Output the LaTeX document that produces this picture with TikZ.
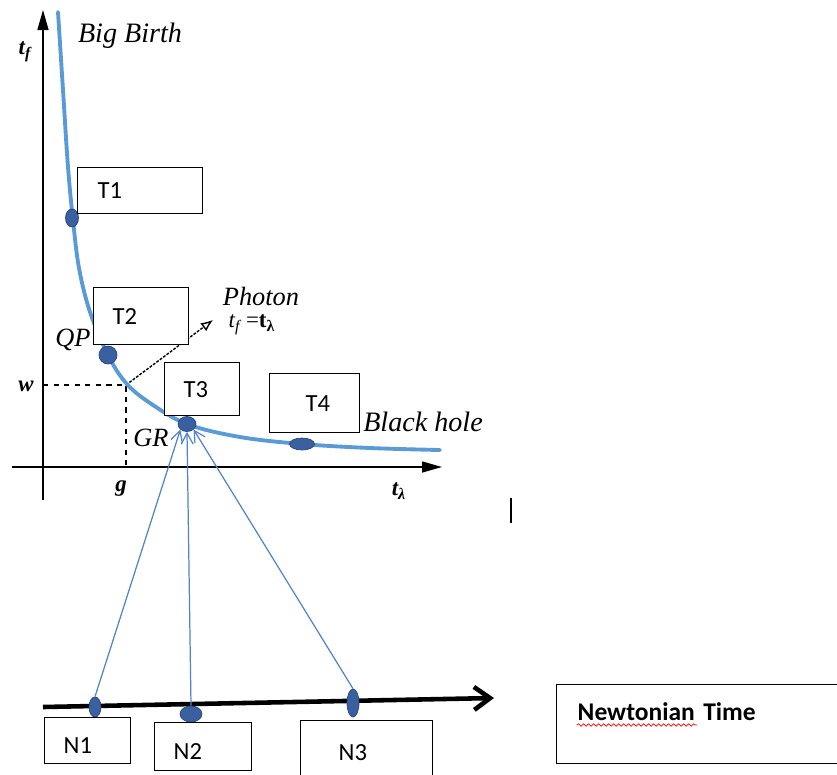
\documentclass[tikz,border=0pt]{standalone}
\usepackage{fontspec}
\setmainfont{Liberation Serif}
\newfontfamily\calibfont{Carlito}
\usetikzlibrary{arrows.meta,shapes.geometric,decorations.pathmorphing}
\definecolor{curveblue}{RGB}{91,155,213}
\definecolor{dotblue}{RGB}{58,96,160}
\definecolor{dotedge}{RGB}{40,70,125}
\definecolor{linkblue}{RGB}{80,130,205}
\tikzset{
  tbox/.style={draw=black,fill=white,line width=0.8pt,anchor=north west,align=left,
    font=\calibfont\fontsize{14}{16}\selectfont},
  tdot/.style={ellipse,fill=dotblue,draw=dotedge,line width=0.4pt,inner sep=0pt},
  lbl/.style={font=\itshape\fontsize{15}{17}\selectfont},
  axlbl/.style={font=\bfseries\itshape\fontsize{13}{15}\selectfont},
  link/.style={draw=linkblue,line width=0.7pt,-{Straight Barb[length=2.2mm,width=2.4mm]}},
}
\begin{document}
\begin{tikzpicture}[x=0.2mm,y=-0.2mm]
\useasboundingbox (0,0) rectangle (837,774);
% axes
\coordinate (ybot) at (43,500);
\coordinate (ytop) at (43,10);
\coordinate (xleft) at (12,467);
\coordinate (xright) at (442,467);
\draw [line width=0.8pt,-{Triangle[length=4mm,width=2.2mm]}] (ybot) -- (ytop);
\draw [line width=0.8pt,-{Triangle[length=4mm,width=2.2mm]}] (xleft) -- (xright);
\node [axlbl] (tf) at (25,52) {t\textsubscript{f}};
\node [axlbl] (tlam) at (399,491) {t\textsubscript{λ}};
\node [axlbl] (g) at (121,489) {g};
\node [axlbl] (w) at (26,386) {w};
% g, w and photon
\coordinate (gw) at (126,385);
\coordinate (ph) at (213,320);
\draw [dashed,line width=0.8pt] (43,385) -- (gw) -- (126,467);
\draw [dash pattern=on 1.6pt off 0.8pt,line width=0.8pt,-{Latex[open,length=2.4mm,width=2mm]}] (gw) -- (ph);
\node [lbl] (photon) at (261,296) {Photon};
\node [font=\fontsize{13}{15}\selectfont] (tfl) at (252,325) {\textit{t\textsubscript{f}} =\textbf{t\textsubscript{λ}}};
% curve
\draw [curveblue,line width=2.2pt,line cap=round] plot [smooth,tension=0.6] coordinates {
  (58,12) (63,90) (68,167) (73,220) (79,268) (90,312) (108,355) (126,383)
  (150,403) (187,424) (240,437) (302,444) (370,448) (440,450)};
\node [lbl,font=\itshape\fontsize{16}{18}\selectfont] (bigbirth) at (130,36) {Big Birth};
\node [lbl,font=\itshape\fontsize{16}{18}\selectfont] (blackhole) at (423,422) {Black hole};
\node [lbl] (qp) at (73,340) {QP};
\node [lbl] (gr) at (151,438) {GR};
% dots on the curve
\node [tdot,minimum width=2.6mm,minimum height=3.6mm] (T1dot) at (72,218) {};
\node [tdot,minimum width=3.6mm,minimum height=3.6mm] (T2dot) at (108,355) {};
\node [tdot,minimum width=3.6mm,minimum height=3.0mm] (T3dot) at (187,424) {};
\node [tdot,minimum width=5mm,minimum height=2.4mm] (T4dot) at (302,444) {};
% boxes
\node [tbox,text width=17mm,inner xsep=4mm,minimum height=9.2mm] (T1) at (77,167) {T1};
\node [tbox,text width=11.4mm,inner xsep=3.8mm,minimum height=11.4mm] (T2) at (93,287) {T2};
\node [tbox,text width=7.4mm,inner xsep=3.8mm,minimum height=10.6mm] (T3) at (164,362) {T3};
\node [tbox,text width=3.6mm,inner xsep=7.2mm,minimum height=11.8mm] (T4) at (269,373) {T4};
% newtonian time line
\coordinate (nstart) at (43,707);
\coordinate (nend) at (494,698);
\draw [line width=2.6pt,-{Straight Barb[length=3.2mm,width=4.6mm]}] (nstart) -- (nend);
\node [tdot,minimum width=2.4mm,minimum height=4mm] (N1dot) at (95,707) {};
\node [tdot,minimum width=4.4mm,minimum height=3.2mm] (N2dot) at (191,714) {};
\node [tdot,minimum width=2.4mm,minimum height=5.6mm] (N3dot) at (353,703) {};
\node [tbox,text width=9.6mm,inner xsep=3.8mm,minimum height=9.2mm,text height=5mm] (N1) at (44,717) {N1};
\node [tbox,text width=11.8mm,inner xsep=3.8mm,minimum height=9.6mm,text height=5mm] (N2) at (154,722) {N2};
\node [tbox,text width=11.2mm,inner xsep=7.6mm,minimum height=14mm,text height=2mm] (N3) at (300,720) {N3};
\node [tbox,text width=48mm,inner xsep=4.2mm,minimum height=15.8mm,text depth=5mm,
  font=\calibfont\bfseries\fontsize{14.5}{16}\selectfont] (newton) at (556,684) {Newtonian Time};
\draw [red,line width=0.4pt,decorate,decoration={snake,amplitude=0.25mm,segment length=1mm}]
  (577,725) -- (697,725);
% links to T3
\draw [link] (N1dot.north) -- (T3dot.south west);
\draw [link] (N2dot.north) -- (T3dot.south);
\draw [link] (N3dot.north) -- (T3dot.south east);
% stray mark
\draw [line width=1.4pt] (511,498) -- (511,523);
\end{tikzpicture}
\end{document}
